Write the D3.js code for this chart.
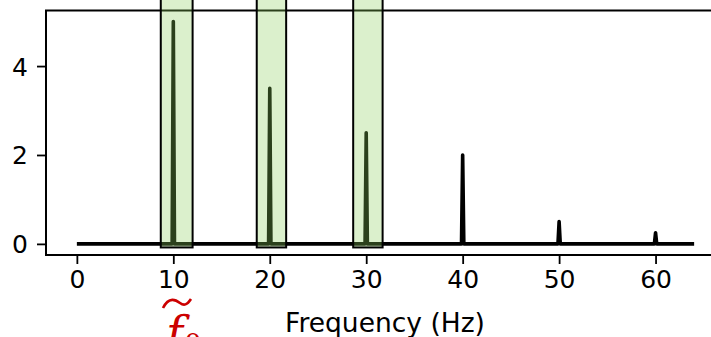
<!DOCTYPE html>
<meta charset="utf-8">
<script src="https://d3js.org/d3.v7.min.js"></script>
<style>
  body { margin: 0; background: #fff; }
  svg { display: block; font-family: "DejaVu Sans", sans-serif; }
</style>
<div id="chart"></div>
<script>
// spectrum peaks (Hz) and their amplitudes
var peakFreqs = [10, 20, 30, 40, 50, 60];
var peakAmps = [5, 3.5, 2.5, 2, 0.5, 0.25];
var freqRange = [0, 64];
// highlighted harmonics (band edges in Hz)
var boxLo = [8.7, 18.65, 28.65];
var boxHi = [12.0, 21.7, 31.7];
var xTicks = [0, 10, 20, 30, 40, 50, 60];
var yTicks = [0, 2, 4];

var width = 711, height = 337;
var fontSize = "25px";

var svg = d3.select("#chart").append("svg")
  .attr("width", width)
  .attr("height", height);

var x = d3.scaleLinear().domain([-3.2, 67.2]).range([46, 725]);
var y = d3.scaleLinear().domain([-0.25, 5.25]).range([255, 10.5]);

// build spectrum line from the peaks
var spec = [[freqRange[0], 0]];
peakFreqs.forEach(function(f, i) {
  spec.push([f - 0.12, 0], [f, peakAmps[i]], [f + 0.12, 0]);
});
spec.push([freqRange[1], 0]);

var line = d3.line()
  .x(function(d) { return x(d[0]); })
  .y(function(d) { return y(d[1]); });

svg.append("path")
  .datum(spec)
  .attr("d", line)
  .attr("fill", "none")
  .attr("stroke", "#000")
  .attr("stroke-width", 3.6)
  .attr("stroke-linejoin", "round");

// axes
var xAxis = svg.append("g")
  .attr("transform", "translate(0," + y(-0.25) + ")")
  .call(d3.axisBottom(x).tickValues(xTicks).tickSize(9).tickPadding(6));

var yAxis = svg.append("g")
  .attr("transform", "translate(" + x(-3.2) + ",0)")
  .call(d3.axisLeft(y).tickValues(yTicks).tickFormat(d3.format("d"))
    .tickSize(9).tickPadding(9));

[xAxis, yAxis].forEach(function(g) {
  g.select(".domain").remove();
  g.selectAll("line").attr("stroke", "#000").attr("stroke-width", 1.8);
  g.selectAll("text")
    .attr("fill", "#000")
    .style("font-size", fontSize)
    .style("font-family", "DejaVu Sans, sans-serif");
});
yAxis.selectAll("text").attr("dy", "0.36em");

// spines
svg.append("rect")
  .attr("x", x(-3.2))
  .attr("y", y(5.25))
  .attr("width", x(67.2) - x(-3.2))
  .attr("height", y(-0.25) - y(5.25))
  .attr("fill", "none")
  .attr("stroke", "#000")
  .attr("stroke-width", 2);

// highlight boxes over the first harmonics
svg.selectAll(".hl")
  .data(boxLo)
  .enter()
  .append("rect")
  .attr("class", "hl")
  .attr("x", function(d) { return x(d); })
  .attr("width", function(d, i) { return x(boxHi[i]) - x(d); })
  .attr("y", -10)
  .attr("height", function() { return y(-0.08) + 10; })
  .attr("fill", "rgb(140,205,90)")
  .attr("fill-opacity", 0.31)
  .attr("stroke", "#000")
  .attr("stroke-width", 2);

// x label
svg.append("text")
  .attr("x", 385)
  .attr("y", 332)
  .attr("text-anchor", "middle")
  .style("font-size", "26.5px")
  .text("Frequency (Hz)");

// f~0 annotation
var red = "#cc0000";
svg.append("path")
  .attr("d", "M163,308 C169,296 176,300 180,303 C184,306 187,305 191,299")
  .attr("fill", "none")
  .attr("stroke", red)
  .attr("stroke-width", 2.6);

svg.append("text")
  .attr("x", 166)
  .attr("y", 349)
  .attr("fill", red)
  .style("font-family", "DejaVu Serif, serif")
  .style("font-style", "italic")
  .style("font-size", "46px")
  .text("f");

svg.append("text")
  .attr("x", 184)
  .attr("y", 354)
  .attr("fill", red)
  .style("font-family", "DejaVu Serif, serif")
  .style("font-size", "28px")
  .text("0");
</script>
